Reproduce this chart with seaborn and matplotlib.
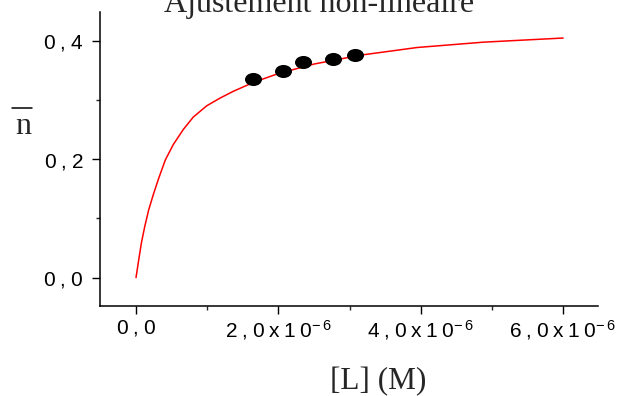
import numpy as np
import pandas as pd
import matplotlib
matplotlib.use("Agg")
import matplotlib.pyplot as plt
import seaborn as sns
from matplotlib.path import Path
from matplotlib.lines import Line2D
from matplotlib.ticker import MultipleLocator

# ---- data ----
conc_points = [1.65e-6, 2.07e-6, 2.34e-6, 2.77e-6, 3.07e-6]
nbar_points = [0.336, 0.350, 0.365, 0.370, 0.377]

curve_L = [0.0, 0.038e-6, 0.0745e-6, 0.122e-6, 0.178e-6, 0.249e-6, 0.319e-6, 0.412e-6,
           0.524e-6, 0.665e-6, 0.805e-6, 0.994e-6, 1.181e-6, 1.368e-6, 1.556e-6,
           1.696e-6, 2.0e-6, 2.5e-6, 3.15e-6, 3.95e-6, 4.88e-6, 6.0e-6]
curve_n = [0.0, 0.030, 0.058, 0.086, 0.1145, 0.1427, 0.168, 0.199,
           0.225, 0.2505, 0.2715, 0.2905, 0.3035, 0.315, 0.325,
           0.332, 0.345, 0.361, 0.376, 0.389, 0.398, 0.405]

x_ticks = [0.0, 2e-6, 4e-6, 6e-6]
x_ticklabels = [r"$\mathregular{0\:,\!\:0}$",
                r"$\mathregular{2\:,\!\:0\:x\:1\:0^{-\:6}}$",
                r"$\mathregular{4\:,\!\:0\:x\:1\:0^{-\:6}}$",
                r"$\mathregular{6\:,\!\:0\:x\:1\:0^{-\:6}}$"]
y_ticks = [0.0, 0.2, 0.4]
y_ticklabels = [r"$\mathregular{0\:,\!\:0}$", r"$\mathregular{0\:,\!\:2}$",
                r"$\mathregular{0\:,\!\:4}$"]

title = "Ajustement non-linéaire"
xlabel = "[L] (M)"
ylabel = "n"

sns.set_style("ticks")
plt.rcParams["font.family"] = ["Liberation Sans", "DejaVu Sans"]
plt.rcParams["mathtext.fontset"] = "custom"
plt.rcParams["mathtext.rm"] = "Liberation Sans"

fig = plt.figure(figsize=(6.25, 3.96), dpi=100)
ax = fig.add_axes([100/625, 1-306/396, 498/625, 294/396])

df_curve = pd.DataFrame({"L": curve_L, "n": curve_n})
df_pts = pd.DataFrame({"L": conc_points, "n": nbar_points})

sns.lineplot(data=df_curve, x="L", y="n", ax=ax, color="#ff0000", lw=1.1,
             estimator=None, sort=False)

ell = Path.unit_circle()
ell = Path(ell.vertices * np.array([1.3, 1.0]), ell.codes)
sns.scatterplot(data=df_pts, x="L", y="n", ax=ax, marker=ell, s=150,
                color="black", edgecolor="black", linewidth=0, zorder=3)

ax.set_xlim(-0.506e-6, 6.49e-6)
ax.set_ylim(-0.048, 0.449)
ax.set_xticks(x_ticks)
ax.set_xticklabels(x_ticklabels)
ax.set_yticks(y_ticks)
ax.set_yticklabels(y_ticklabels)
ax.xaxis.set_minor_locator(MultipleLocator(1e-6))
ax.yaxis.set_minor_locator(MultipleLocator(0.1))
ax.tick_params(axis="both", which="major", length=6, width=1.0, labelsize=15,
               direction="out", colors="black")
ax.tick_params(axis="both", which="minor", length=3, width=1.0, direction="out")
ax.tick_params(axis="y", pad=6)
ax.tick_params(axis="x", pad=3)
sns.despine(ax=ax)
for s in ["left", "bottom"]:
    ax.spines[s].set_linewidth(1.1)
    ax.spines[s].set_color("black")
ax.set_xlabel("")
ax.set_ylabel("")

fig.text(319/625, 1-12/396, title, family="Liberation Serif", fontsize=23,
         ha="center", va="baseline")
fig.text(378/625, 1-382/396, xlabel, family="Liberation Serif", fontsize=22.5,
         ha="center", va="center")
fig.text(23.5/625, 1-134.3/396, ylabel, family="Liberation Serif", fontsize=23,
         ha="center", va="baseline")
fig.add_artist(Line2D([12.3/625, 32.3/625], [1-108.3/396, 1-108.3/396],
                      transform=fig.transFigure, color="black", lw=1.1))

fig.savefig("out.png", dpi=100)
